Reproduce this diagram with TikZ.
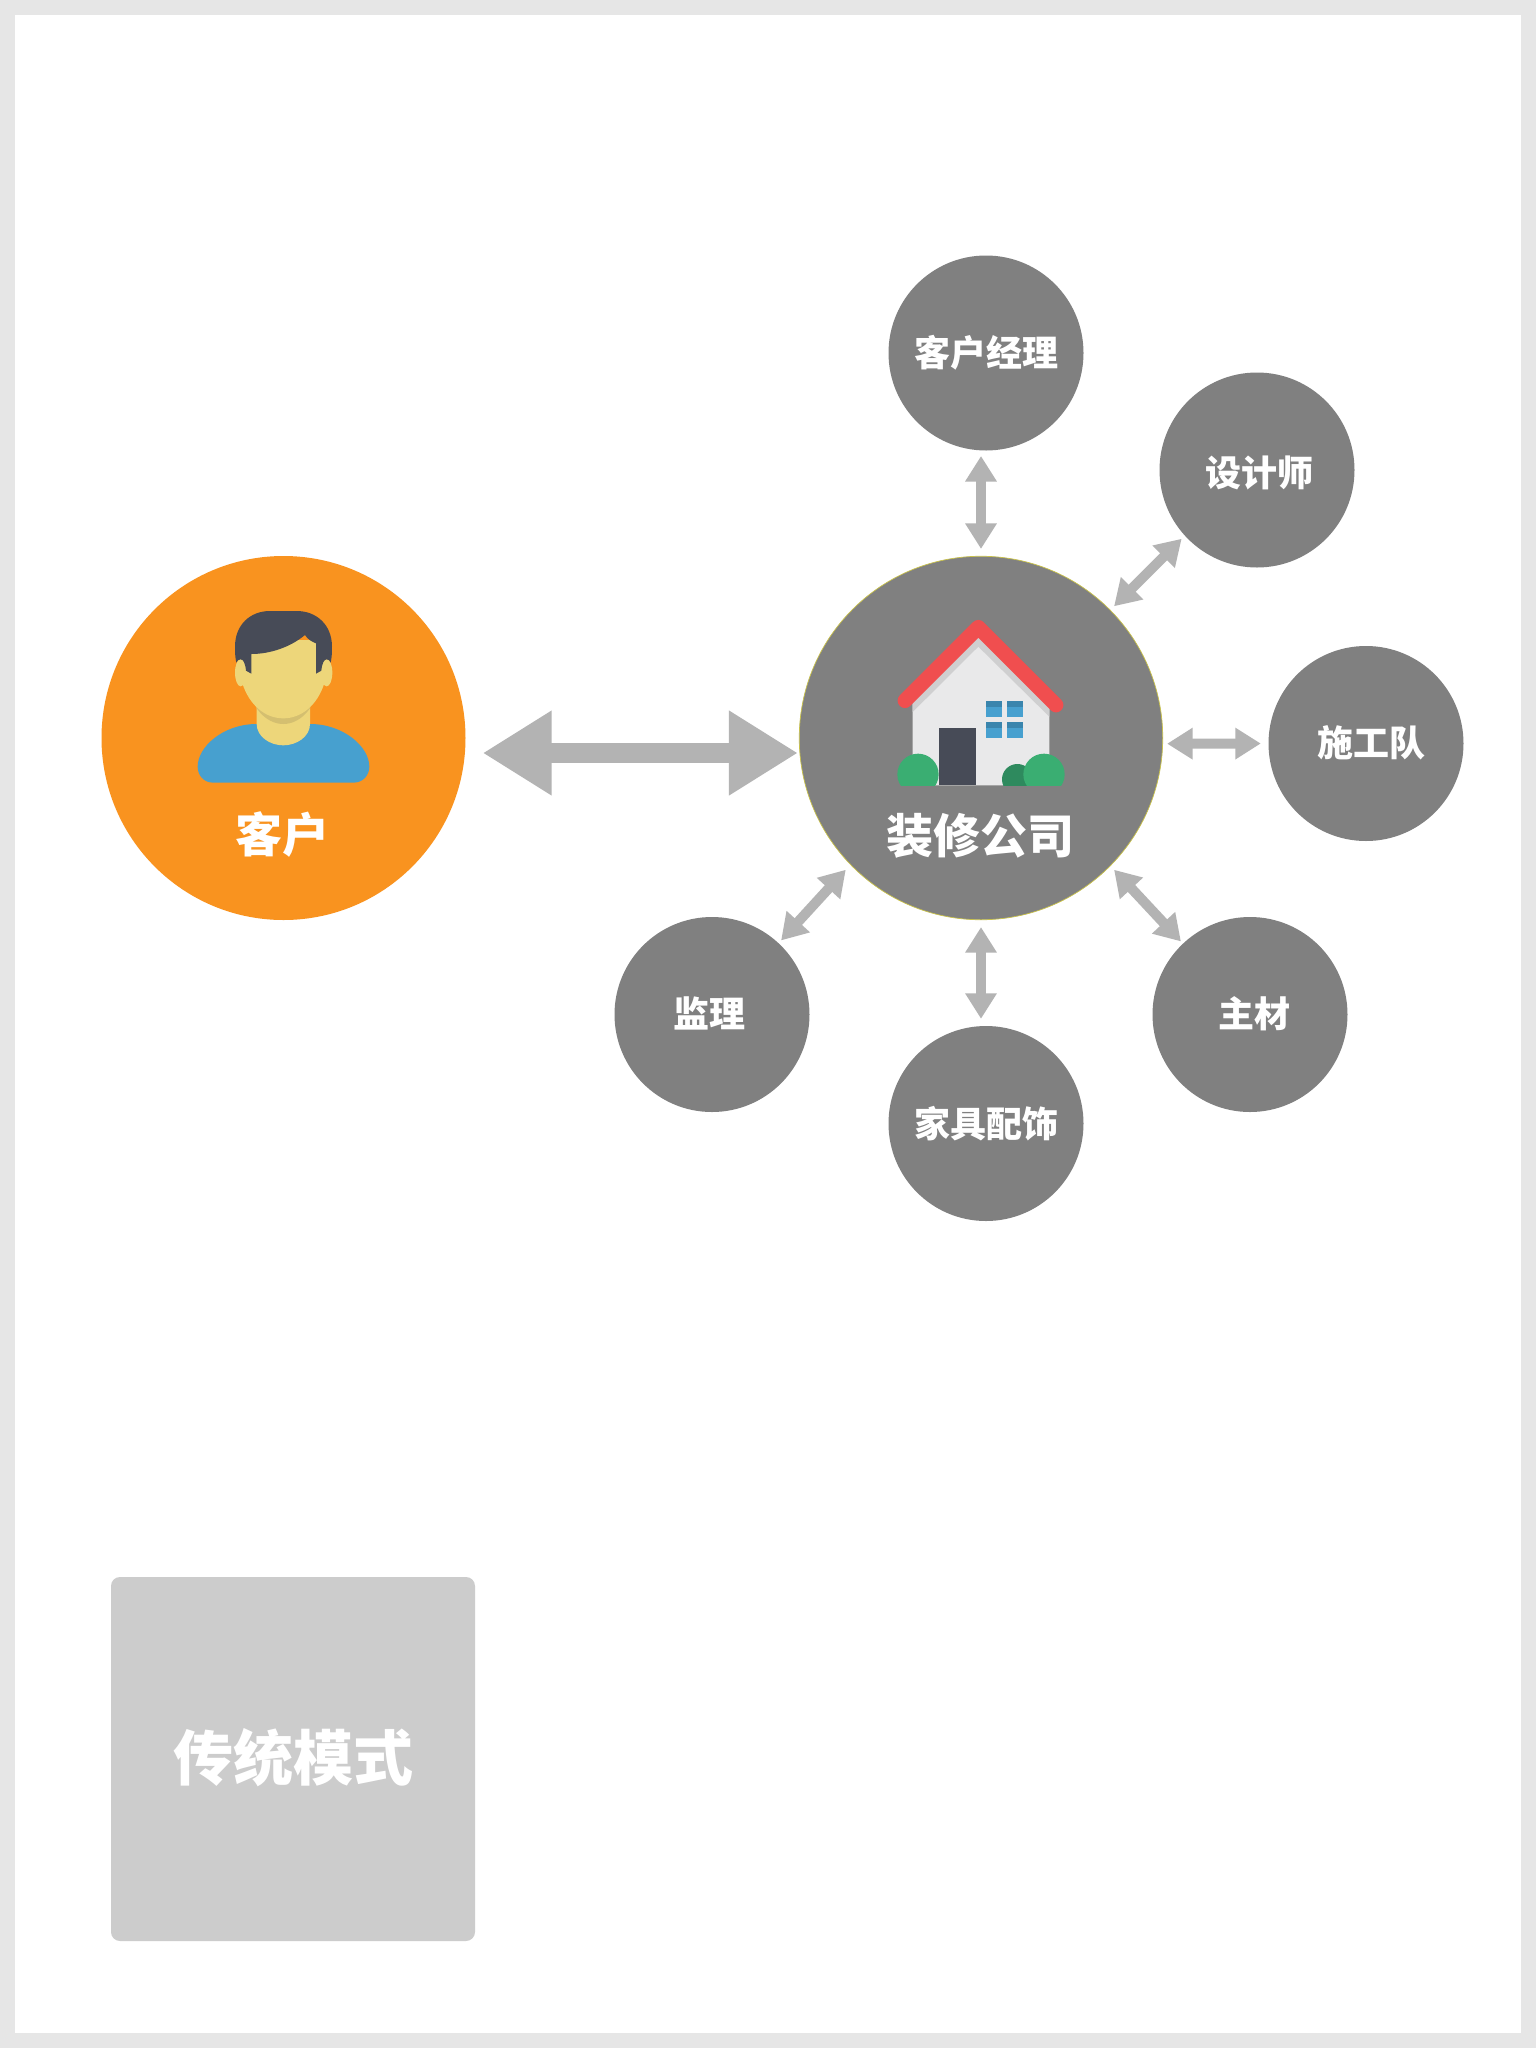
\documentclass[tikz,border=0pt]{standalone}
\usepackage{fontspec}
\newfontfamily\cjk{Noto Sans CJK SC}
\usetikzlibrary{arrows.meta}
\definecolor{frameG}{HTML}{E6E6E6}
\definecolor{hubG}{HTML}{808080}
\definecolor{arrG}{HTML}{B3B3B3}
\definecolor{orangeC}{HTML}{F9931F}
\definecolor{boxG}{HTML}{CCCCCC}
\definecolor{darkS}{HTML}{474B57}
\definecolor{skinC}{HTML}{EDD67A}
\definecolor{skinD}{HTML}{D4BF70}
\definecolor{blueC}{HTML}{47A0CF}
\definecolor{blueD}{HTML}{3A85AD}
\definecolor{wallC}{HTML}{E9E9EA}
\definecolor{wallD}{HTML}{CFCFD0}
\definecolor{roofC}{HTML}{F04E4F}
\definecolor{bushC}{HTML}{3AAE72}
\definecolor{bushD}{HTML}{2E8A5E}
\definecolor{hubEdge}{HTML}{C9C24A}
\tikzset{
  bigcircle/.style={circle,inner sep=0pt,minimum size=364pt},
  smallcircle/.style={circle,fill=hubG,inner sep=0pt,minimum size=195pt},
  smalltext/.style={text=white,font=\cjk\bfseries\fontsize{36}{36}\selectfont,inner sep=0pt},
  bigtext/.style={text=white,font=\cjk\bfseries\fontsize{47}{47}\selectfont,inner sep=0pt},
  bigarrow/.style={draw=arrG,line width=20pt,{Triangle[length=69pt,width=80pt,fill=arrG]}-{Triangle[length=69pt,width=80pt,fill=arrG]}},
  smallarrow/.style={draw=arrG,line width=10pt,{Triangle[length=25.5pt,width=30pt,fill=arrG]}-{Triangle[length=25.5pt,width=30pt,fill=arrG]}},
  zoomA/.style={shift={(90,540)},x=0.33333pt,y=-0.33333pt},
  zoomB/.style={shift={(790,540)},x=0.33333pt,y=-0.33333pt}
}
\begin{document}
\begin{tikzpicture}[x=1pt,y=-1pt]
\useasboundingbox (0,0) rectangle (1536,2048);
\fill[frameG] (0,0) rectangle (1536,2048);
\fill[white] (15,15) rectangle (1521,2033);

% hub circles
\node[bigcircle,fill=orangeC] (client) at (283.5,738) {};
\node[bigcircle,fill=hubG,draw=hubEdge,line width=0.7pt,minimum size=363.5pt] (company) at (981,738) {};
\node[smallcircle] (mgr) at (986,353) {};
\node[smallcircle] (designer) at (1257,470) {};
\node[smallcircle] (builder) at (1366,743.5) {};
\node[smallcircle] (material) at (1250,1014.5) {};
\node[smallcircle] (furniture) at (986,1123.5) {};
\node[smallcircle] (supervisor) at (712,1014.5) {};

% person
\begin{scope}[zoomA]
\fill[blueC] (370,728) .. controls (340,728) and (323,705) .. (323,680)
  .. controls (323,620) and (400,552) .. (500,552) -- (660,552)
  .. controls (760,552) and (838,620) .. (838,680)
  .. controls (838,705) and (820,728) .. (790,728) -- cycle;
\fill[skinC] (500,480) -- (500,552) .. controls (500,590) and (540,616) .. (580,616)
  .. controls (620,616) and (660,590) .. (660,552) -- (660,480) -- cycle;
\fill[skinD] (500,505) .. controls (525,540) and (555,552) .. (580,552)
  .. controls (605,552) and (635,540) .. (660,505) -- (660,490) -- (500,490) -- cycle;
\fill[skinC] (457,300) -- (457,430) .. controls (478,495) and (525,535) .. (580,535)
  .. controls (635,535) and (682,495) .. (703,430) -- (703,300) -- cycle;
\fill[skinC] (452,398) ellipse [x radius=17,y radius=41];
\fill[skinC] (710,398) ellipse [x radius=17,y radius=41];
\fill[darkS] (484,401) -- (468,392) .. controls (466,370) and (460,358) .. (452,358)
  .. controls (446,358) and (441,362) .. (439,368) .. controls (435,350) and (435,335) .. (435,320)
  .. controls (435,255) and (480,213) .. (540,213) -- (620,213)
  .. controls (680,213) and (726,255) .. (726,320)
  .. controls (726,335) and (726,350) .. (722,368) .. controls (720,362) and (716,358) .. (710,358)
  .. controls (702,358) and (696,370) .. (694,392) -- (678,401) -- (678,310)
  .. controls (665,305) and (652,297) .. (645,285)
  .. controls (600,322) and (540,342) .. (484,342) -- cycle;
\end{scope}

% house
\begin{scope}[zoomB]
\fill[wallC] (368,736) -- (368,480) -- (565,285) -- (778,495) -- (778,736) -- cycle;
\fill[wallD] (368,516) -- (565,320) -- (778,530) -- (778,490) -- (565,280) -- (368,480) -- cycle;
\draw[roofC,line width=14.8pt,line cap=round,line join=round] (345,482) -- (565,262) -- (798,495);
\fill[darkS] (447,563) rectangle (557,736);
\foreach \wx/\wy in {588/484,651/484,588/547,651/547}{
  \fill[blueC] (\wx,\wy) rectangle ++(48,47);
  \fill[blueD] (\wx,\wy) rectangle ++(48,16);
}
\begin{scope}
\clip (300,600) rectangle (850,736);
\fill[bushD] (682,718) circle [radius=46];
\fill[bushC] (384,703) circle [radius=62];
\fill[bushC] (762,703) circle [radius=62];
\end{scope}
\end{scope}

% labels
\node[bigtext] (clientlabel) at (282,835) {客户};
\node[bigtext] (companylabel) at (980,836) {装修公司};
\node[smalltext] (mgrlabel) at (986,353) {客户经理};
\node[smalltext] (designerlabel) at (1259,473) {设计师};
\node[smalltext] (builderlabel) at (1371,743) {施工队};
\node[smalltext] (materiallabel) at (1254,1014) {主材};
\node[smalltext] (furniturelabel) at (986,1124) {家具配饰};
\node[smalltext] (supervisorlabel) at (709,1013) {监理};

% connectors
\draw[bigarrow] ([shift={(17,15)}]client.east) -- ([shift={(-1,15)}]company.west);
\draw[smallarrow] ([shift={(0,-7)}]company.north) -- ([shift={(-5,5.3)}]mgr.south);
\draw[smallarrow] ([shift={(0,-7)}]furniture.north -| company.south) -- ([shift={(0,7)}]company.south);
\draw[smallarrow] ([shift={(4.3,-3)}]company.45) -- ([shift={(-6.3,-0.3)}]designer.225);
\draw[smallarrow] ([shift={(4.3,3)}]company.-45) -- ([shift={(0,-4)}]material.135);
\draw[smallarrow] ([shift={(-6.5,3)}]company.-135) -- ([shift={(0,-5)}]supervisor.45);
\draw[smallarrow] ([shift={(4,5.7)}]company.east) -- ([shift={(-7.5,0)}]builder.west);

% bottom box
\node[rectangle,rounded corners=9pt,fill=boxG,minimum width=364pt,minimum height=364pt,inner sep=0pt] (modebox) at (293,1759) {};
\node[text=white,font=\cjk\bfseries\fontsize{60}{60}\selectfont,inner sep=0pt] (modelabel) at (293,1758) {传统模式};
\end{tikzpicture}
\end{document}
